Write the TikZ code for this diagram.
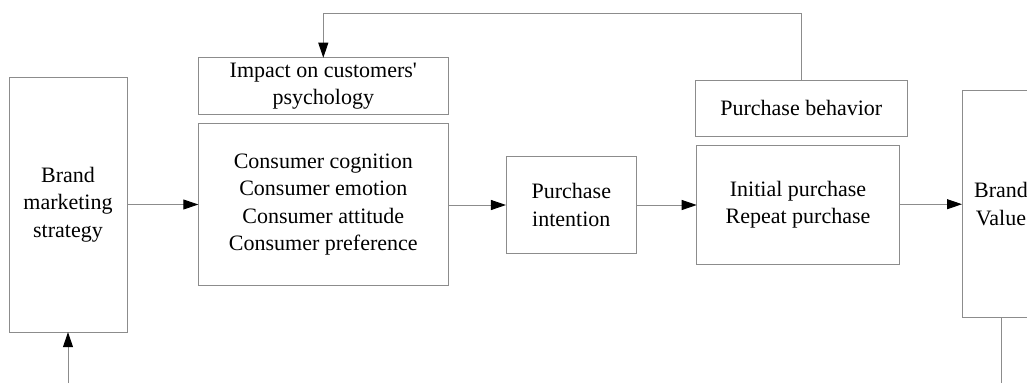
\documentclass[tikz,border=0pt]{standalone}
\usepackage{fontspec}
\setmainfont{Liberation Serif}
\usetikzlibrary{arrows.meta}
\tikzset{
  blk/.style={draw=linegray, line width=0.9pt, inner sep=0pt, outer sep=0pt,
    align=center, font=\fontsize{22pt}{27.5pt}\selectfont},
  conn/.style={draw=linegray, line width=0.9pt},
  arr/.style={conn, -{Triangle[length=15pt,width=10pt,black]}}
}
\definecolor{linegray}{HTML}{8C8C8C}
\begin{document}
\begin{tikzpicture}[x=1pt,y=-1pt]
  \useasboundingbox (0,0) rectangle (1027,383);
  \clip (0,0) rectangle (1027,383);
  % process blocks
  \node[blk, minimum width=118pt, minimum height=255pt] (strat) at (68,204.7) {Brand\\marketing\\strategy};
  \node[blk, minimum width=250pt, minimum height=56.6pt] (impact) at (323.3,86) {Impact on customers\textquotesingle\\psychology};
  \node[blk, minimum width=250pt, minimum height=162pt] (cons) at (323.3,204.5) {Consumer cognition\\Consumer emotion\\Consumer attitude\\Consumer preference};
  \node[blk, minimum width=130.7pt, minimum height=96.6pt] (intent) at (571.3,205) {Purchase\\intention};
  \node[blk, minimum width=212.7pt, minimum height=56.7pt] (behav) at (801.3,108.3) {Purchase behavior};
  \node[blk, minimum width=202.6pt, minimum height=119pt] (buy) at (798,204.8) {Initial purchase\\Repeat purchase};
  \node[blk, minimum width=78pt, minimum height=227pt] (value) at (1001,204.2) {Brand\\Value};
  % free ends of the open connectors
  \coordinate (inS) at (68,383);
  \coordinate (outV) at (1001,383);
  \coordinate (top) at (560,13.7);
  % connectors
  \draw[arr] (strat.east |- cons.west) -- (cons.west);
  \draw[arr] (cons.east |- intent.west) -- (intent.west);
  \draw[arr] (intent.east) -- (buy.west |- intent.east);
  \draw[arr] (buy.east |- value.west) -- (value.west);
  \draw[arr] (inS) -- (strat.south);
  \draw[conn] (value.south) -- (outV);
  \draw[arr] (behav.north) |- (top) -| (impact.north);
\end{tikzpicture}
\end{document}
